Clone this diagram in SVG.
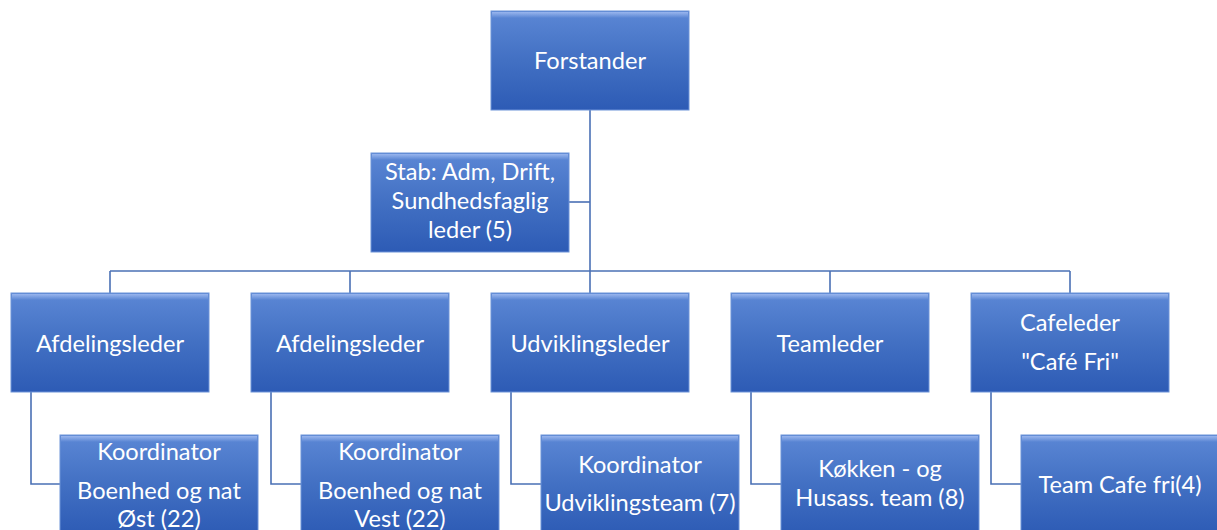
<svg xmlns="http://www.w3.org/2000/svg" width="1217" height="530" viewBox="0 0 1217 530">
<defs>
<linearGradient id="g" x1="0" y1="0" x2="0" y2="1">
<stop offset="0" stop-color="#5b87d5"/>
<stop offset="0.5" stop-color="#4270c3"/>
<stop offset="1" stop-color="#2d5bb5"/>
</linearGradient>
<linearGradient id="hl" x1="0" y1="0" x2="0" y2="1">
<stop offset="0" stop-color="#9fbaf0" stop-opacity="0.9"/>
<stop offset="1" stop-color="#9fbaf0" stop-opacity="0"/>
</linearGradient>
</defs>
<style>
.box{fill:url(#g);stroke:#6d93d8;stroke-width:1}
.top{fill:url(#hl)}
.t{font-family:"Lato","Open Sans","Liberation Sans",sans-serif;font-size:23.6px;fill:#ffffff;text-anchor:middle}
.c{fill:none;stroke:#4a70b5;stroke-width:1.6}
</style>
<rect width="1217" height="530" fill="#ffffff"/>
<g id="connectors">
<path class="c" d="M590 110 V271"/>
<path class="c" d="M569 202 H590"/>
<path class="c" d="M110 271 H1070"/>
<path class="c" d="M110 271 V293 M350 271 V293 M590 271 V293 M830 271 V293 M1070 271 V293"/>
<path class="c" d="M31 392 V484 H60"/>
<path class="c" d="M271 392 V484 H301"/>
<path class="c" d="M511 392 V484 H541"/>
<path class="c" d="M751 392 V484 H781"/>
<path class="c" d="M991 392 V484 H1021"/>
</g>
<g id="forstander">
<rect class="box" x="491" y="11" width="198" height="99"/>
<rect class="top" x="492" y="12" width="196" height="6"/>
<text class="t" x="590" y="69">Forstander</text>
</g>
<g id="stab">
<rect class="box" x="371" y="153" width="198" height="99"/>
<rect class="top" x="372" y="154" width="196" height="6"/>
<text class="t" x="470" y="180">Stab: Adm, Drift,</text>
<text class="t" x="470" y="209">Sundhedsfaglig</text>
<text class="t" x="470" y="238">leder (5)</text>
</g>
<g id="afd1">
<rect class="box" x="11" y="293" width="198" height="99"/>
<rect class="top" x="12" y="294" width="196" height="6"/>
<text class="t" x="110" y="352">Afdelingsleder</text>
</g>
<g id="afd2">
<rect class="box" x="251" y="293" width="198" height="99"/>
<rect class="top" x="252" y="294" width="196" height="6"/>
<text class="t" x="350" y="352">Afdelingsleder</text>
</g>
<g id="udv">
<rect class="box" x="491" y="293" width="198" height="99"/>
<rect class="top" x="492" y="294" width="196" height="6"/>
<text class="t" x="590" y="352">Udviklingsleder</text>
</g>
<g id="team">
<rect class="box" x="731" y="293" width="198" height="99"/>
<rect class="top" x="732" y="294" width="196" height="6"/>
<text class="t" x="830" y="352">Teamleder</text>
</g>
<g id="cafe">
<rect class="box" x="971" y="293" width="198" height="99"/>
<rect class="top" x="972" y="294" width="196" height="6"/>
<text class="t" x="1070" y="331">Cafeleder</text>
<text class="t" x="1070" y="370">"Café Fri"</text>
</g>
<g id="koord-oest">
<rect class="box" x="60" y="435" width="198" height="99"/>
<rect class="top" x="61" y="436" width="196" height="6"/>
<text class="t" x="159" y="460">Koordinator</text>
<text class="t" x="159" y="499">Boenhed og nat</text>
<text class="t" x="159" y="527">Øst (22)</text>
</g>
<g id="koord-vest">
<rect class="box" x="301" y="435" width="198" height="99"/>
<rect class="top" x="302" y="436" width="196" height="6"/>
<text class="t" x="400" y="460">Koordinator</text>
<text class="t" x="400" y="499">Boenhed og nat</text>
<text class="t" x="400" y="527">Vest (22)</text>
</g>
<g id="koord-udv">
<rect class="box" x="541" y="435" width="198" height="99"/>
<rect class="top" x="542" y="436" width="196" height="6"/>
<text class="t" x="640" y="473">Koordinator</text>
<text class="t" x="640" y="511">Udviklingsteam (7)</text>
</g>
<g id="koekken">
<rect class="box" x="781" y="435" width="198" height="99"/>
<rect class="top" x="782" y="436" width="196" height="6"/>
<text class="t" x="880" y="477">Køkken - og</text>
<text class="t" x="880" y="506">Husass. team (8)</text>
</g>
<g id="teamcafe">
<rect class="box" x="1021" y="435" width="198" height="99"/>
<rect class="top" x="1022" y="436" width="196" height="6"/>
<text class="t" x="1120" y="493">Team Cafe fri(4)</text>
</g>
</svg>
